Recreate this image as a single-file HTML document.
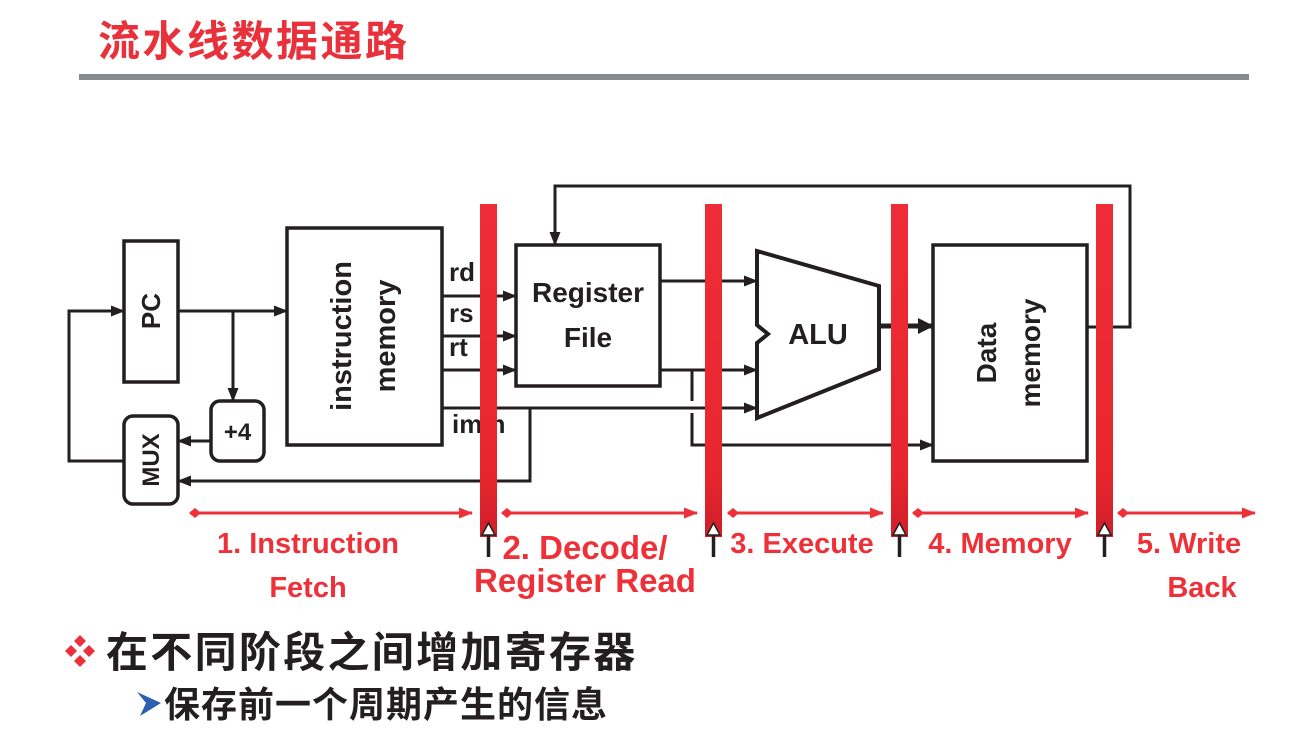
<!DOCTYPE html>
<html><head><meta charset="utf-8"><style>
html,body{margin:0;padding:0;background:#fff;}
svg{display:block;}
.cjk{font-family:"Liberation Sans","Noto Sans CJK SC",sans-serif;font-weight:bold;}
.lat{font-family:"Liberation Sans",Arial,sans-serif;font-weight:bold;}
</style></head><body>
<svg width="1309" height="733" viewBox="0 0 1309 733" xmlns="http://www.w3.org/2000/svg">
<defs>
<linearGradient id="bar" x1="0" y1="0" x2="0" y2="1">
<stop offset="0" stop-color="#ef2d38"/><stop offset="0.8" stop-color="#e8262d"/><stop offset="1" stop-color="#cf1f2a"/>
</linearGradient>
<marker id="ah" markerWidth="14" markerHeight="14" refX="13" refY="7" orient="auto" markerUnits="userSpaceOnUse">
<path d="M0,1.5 L14,7 L0,12.5 Z" fill="#231f20"/></marker>
<marker id="ahb" markerWidth="16" markerHeight="16" refX="15" refY="8" orient="auto" markerUnits="userSpaceOnUse">
<path d="M0,0 L16,8 L0,16 Z" fill="#231f20"/></marker>
<marker id="rh" markerWidth="14" markerHeight="14" refX="13" refY="7" orient="auto" markerUnits="userSpaceOnUse">
<path d="M0,1.5 L14,7 L0,12.5 Z" fill="#ee3138"/></marker>
<marker id="rd" markerWidth="12" markerHeight="12" refX="1" refY="6" orient="auto" markerUnits="userSpaceOnUse">
<path d="M0,6 L6,1 L12,6 L6,11 Z" fill="#ee3138"/></marker>
</defs>

<text x="98" y="56" class="cjk" font-size="42" letter-spacing="2.5" fill="#e8313a">流水线数据通路</text>
<rect x="79" y="74" width="1170" height="6" fill="#8a8b8f"/>

<g fill="none" stroke="#231f20" stroke-width="3.5">
<rect x="124" y="241" width="54" height="141"/>
<rect x="287" y="228" width="155" height="217"/>
<rect x="516" y="245" width="144" height="141"/>
<rect x="933" y="245" width="154" height="216"/>
<rect x="211" y="401" width="53" height="60" rx="9"/>
<rect x="124" y="416" width="54" height="88" rx="9"/>
<path d="M757,251 L879,286 L879,369 L757,418 L757,343 L768,334 L757,325 Z" stroke-width="4"/>
</g>

<g fill="none" stroke="#231f20" stroke-width="3">
<line x1="178" y1="311" x2="287" y2="311" marker-end="url(#ah)"/>
<line x1="233" y1="311" x2="233" y2="401" marker-end="url(#ah)"/>
<line x1="211" y1="441" x2="178" y2="441" marker-end="url(#ah)"/>
<polyline points="124,461 69,461 69,311 124,311" marker-end="url(#ah)"/>
<polyline points="442,408 530,408 530,481 178,481" marker-end="url(#ah)"/>
<line x1="442" y1="296" x2="516" y2="296" marker-end="url(#ah)"/>
<line x1="442" y1="336" x2="516" y2="336" marker-end="url(#ah)"/>
<line x1="442" y1="370" x2="516" y2="370" marker-end="url(#ah)"/>
<line x1="530" y1="408" x2="757" y2="408" marker-end="url(#ah)"/>
<line x1="660" y1="281" x2="757" y2="281" marker-end="url(#ah)"/>
<line x1="660" y1="370" x2="757" y2="370" marker-end="url(#ah)"/>
<polyline points="692,370 692,401"/>
<polyline points="692,413 692,445 933,445" marker-end="url(#ah)"/>
<line x1="879" y1="326" x2="933" y2="326" stroke-width="5" marker-end="url(#ahb)"/>
<polyline points="1087,327 1130,327 1130,186 555,186 555,245" marker-end="url(#ah)"/>
</g>

<g class="lat" fill="#231f20">
<text x="151" y="311" font-size="26" text-anchor="middle" transform="rotate(-90 151 311)" dy="9">PC</text>
<text x="151" y="460" font-size="24" text-anchor="middle" transform="rotate(-90 151 460)" dy="8">MUX</text>
<text x="237.5" y="440" font-size="24" text-anchor="middle">+4</text>
<text x="341" y="336" font-size="29" text-anchor="middle" transform="rotate(-90 341 336)" dy="10">instruction</text>
<text x="385" y="336" font-size="29" text-anchor="middle" transform="rotate(-90 385 336)" dy="10">memory</text>
<text x="588" y="302" font-size="28" text-anchor="middle">Register</text>
<text x="588" y="347" font-size="28" text-anchor="middle">File</text>
<text x="818" y="344" font-size="29" text-anchor="middle">ALU</text>
<text x="986" y="353" font-size="28" text-anchor="middle" transform="rotate(-90 986 353)" dy="10">Data</text>
<text x="1030" y="353" font-size="28" text-anchor="middle" transform="rotate(-90 1030 353)" dy="10">memory</text>
<text x="449" y="281" font-size="26">rd</text>
<text x="449" y="322" font-size="26">rs</text>
<text x="449" y="356" font-size="26">rt</text>
<text x="452" y="433" font-size="26">imm</text>
</g>

<g fill="url(#bar)">
<rect x="480" y="204" width="17" height="333"/>
<rect x="705" y="204" width="17" height="333"/>
<rect x="891" y="204" width="17" height="333"/>
<rect x="1096" y="204" width="17" height="333"/>
</g>
<g stroke="#231f20" stroke-width="3.5">
<line x1="488.5" y1="534" x2="488.5" y2="557"/>
<line x1="713.5" y1="534" x2="713.5" y2="557"/>
<line x1="899.5" y1="534" x2="899.5" y2="557"/>
<line x1="1104.5" y1="534" x2="1104.5" y2="557"/>
</g>
<g fill="#fff" stroke="#231f20" stroke-width="1.5">
<path d="M482,535 L488.5,523 L495,535 Z"/>
<path d="M707,535 L713.5,523 L720,535 Z"/>
<path d="M893,535 L899.5,523 L906,535 Z"/>
<path d="M1098,535 L1104.5,523 L1111,535 Z"/>
</g>

<g stroke="#ee3138" stroke-width="3">
<line x1="190" y1="513" x2="472" y2="513" marker-start="url(#rd)" marker-end="url(#rh)"/>
<line x1="502" y1="513" x2="697" y2="513" marker-start="url(#rd)" marker-end="url(#rh)"/>
<line x1="728" y1="513" x2="883" y2="513" marker-start="url(#rd)" marker-end="url(#rh)"/>
<line x1="913" y1="513" x2="1088" y2="513" marker-start="url(#rd)" marker-end="url(#rh)"/>
<line x1="1118" y1="513" x2="1255" y2="513" marker-start="url(#rd)" marker-end="url(#rh)"/>
</g>

<g class="lat" fill="#ee3138">
<text x="308" y="553" font-size="29" text-anchor="middle">1. Instruction</text>
<text x="308" y="597" font-size="29" text-anchor="middle">Fetch</text>
<text x="585" y="559" font-size="33" text-anchor="middle">2. Decode/</text>
<text x="585" y="592" font-size="33" text-anchor="middle">Register Read</text>
<text x="802" y="553" font-size="29" text-anchor="middle">3. Execute</text>
<text x="1000" y="553" font-size="29" text-anchor="middle">4. Memory</text>
<text x="1189" y="553" font-size="29" text-anchor="middle">5. Write</text>
<text x="1202" y="597" font-size="29" text-anchor="middle">Back</text>
</g>

<g fill="#e8313a">
<path d="M80,635 L86,641 L80,647 L74,641 Z"/>
<path d="M71,645 L77,651 L71,657 L65,651 Z"/>
<path d="M89,645 L95,651 L89,657 L83,651 Z"/>
<path d="M80,655 L86,661 L80,667 L74,661 Z"/>
</g>
<text x="106" y="667" class="cjk" font-size="42" letter-spacing="2.3" fill="#231f20">在不同阶段之间增加寄存器</text>
<path d="M137,692 L161,703 L140,716 L146,703 Z" fill="#2c5fb0"/>
<text x="164" y="717" class="cjk" font-size="36" letter-spacing="1" fill="#231f20">保存前一个周期产生的信息</text>
</svg>
</body></html>
